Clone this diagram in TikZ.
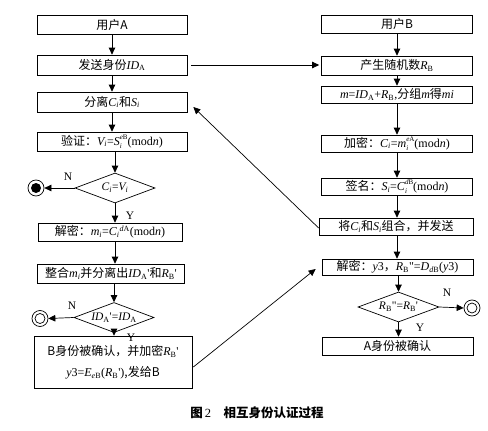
\documentclass[tikz,border=0pt]{standalone}
\usepackage{fontspec}
\setmainfont{Noto Sans CJK SC}
\newfontfamily\tm{Liberation Serif}
\usetikzlibrary{shapes.geometric,arrows.meta}
\newcommand\tv[1]{{\tm\itshape #1}}
\newcommand\tr[1]{{\tm #1}}
\newcommand\lsb[1]{\textsubscript{\tm\upshape #1}}
\newcommand\lsbi[1]{\textsubscript{\tm\itshape #1}}
\newcommand\lsp[1]{\textsuperscript{\tm #1}}
\newcommand\stk[2]{\rlap{\raisebox{-0.45ex}{\scriptsize\tm\itshape #1}}\raisebox{0.85ex}{\scriptsize\tm #2}}
\begin{document}
\begin{tikzpicture}[x=1pt,y=-1pt,
  box/.style={draw, rectangle, inner sep=0pt, line width=0.7pt, font=\fontsize{12}{13}\selectfont},
  dia/.style={draw, diamond, aspect=2.9, inner sep=0pt, line width=0.7pt, font=\fontsize{11.5}{12}\selectfont},
  arr/.style={-{Triangle[length=7pt,width=6.5pt]}, line width=0.7pt},
  lbl/.style={font=\tm\fontsize{11.5}{12}\selectfont, inner sep=0pt},
  ring/.style={draw, circle, line width=0.7pt, inner sep=0pt, minimum size=16pt}]
\useasboundingbox (0,0) rectangle (488,431);
% left column
\node[box, minimum width=150pt, minimum height=19pt] (uA) at (112,24.5) {用户A};
\node[box, minimum width=150pt, minimum height=20pt] (sendID) at (112,65) {发送身份\tv{ID}\lsb{A}};
\node[box, minimum width=150pt, minimum height=20pt] (sep) at (112,102) {分离\tv{C}\lsbi{i}和\tv{S}\lsbi{i}};
\node[box, minimum width=150pt, minimum height=19pt] (verify) at (112,141.5) {验证：\tv{V}\lsbi{i}\tr{=}\tv{S}\stk{i}{\tv{e}B}\tr{(mod}\tv{n}\tr{)}};
\node[dia, minimum width=80pt, minimum height=30pt] (d1) at (115,188) {\tv{C}\lsbi{i}\tr{=}\tv{V}\lsbi{i}};
\node[box, minimum width=144pt, minimum height=18pt] (dec) at (110,232) {解密：\tv{m}\lsbi{i}\tr{=}\tv{C}\lsbi{i}\lsp{\tv{d}A}\tr{(mod}\tv{n}\tr{)}};
\node[box, minimum width=147pt, minimum height=19pt] (merge) at (111,273.5) {整合\tv{m}\lsbi{i}并分离出\tv{ID}\lsb{A}\tr{'}和\tv{R}\lsb{B}\tr{'}};
\node[dia, minimum width=80pt, minimum height=30pt] (d2) at (114,317.5) {\tv{ID}\lsb{A}\tr{'=}\tv{ID}\lsb{A}};
\node[box, minimum width=158pt, minimum height=52pt, align=center] (conf) at (113,362)
  {B身份被确认，并加密\tv{R}\lsb{B}\tr{'}\\[8pt]\tv{y}\tr{3=}\tv{E}\lsb{\tv{e}B}\tr{(}\tv{R}\lsb{B}\tr{')},发给B};
\node[ring] (endA) at (36,188) {};
\node[circle, fill=black, inner sep=0pt, minimum size=10pt] (endAin) at (endA) {};
\node[ring] (endB) at (40,318.5) {};
\node[circle, draw, line width=0.7pt, inner sep=0pt, minimum size=10pt] (endBin) at (endB) {};
\node[lbl] (n1) at (68,177) {N};
\node[lbl] (y1) at (130,216) {Y};
\node[lbl] (n2) at (72,306) {N};
\node[lbl] (y2) at (131,338) {Y};
% right column
\node[box, minimum width=151pt, minimum height=18pt] (uB) at (397,24) {用户B};
\node[box, minimum width=151pt, minimum height=19pt] (rand) at (397,65.5) {产生随机数\tv{R}\lsb{B}};
\node[box, minimum width=151pt, minimum height=17pt] (mID) at (397,94.5) {\tv{m}\tr{=}\tv{ID}\lsb{A}\tr{+}\tv{R}\lsb{B}\tr{,}分组\tv{m}得\tv{mi}};
\node[box, minimum width=151pt, minimum height=17pt] (enc) at (397,143.5) {加密：\tv{C}\lsbi{i}\tr{=}\tv{m}\stk{i}{\tv{e}A}\tr{(mod}\tv{n}\tr{)}};
\node[box, minimum width=151pt, minimum height=17pt] (sig) at (397,186.5) {签名：\tv{S}\lsbi{i}\tr{=}\tv{C}\stk{i}{\tv{d}B}\tr{(mod}\tv{n}\tr{)}};
\node[box, minimum width=154pt, minimum height=17pt] (comb) at (396,226.5) {将\tv{C}\lsbi{i}和\tv{S}\lsbi{i}组合，并发送};
\node[box, minimum width=151pt, minimum height=16pt] (decB) at (397.5,267) {解密：\tv{y}\tr{3}，\tv{R}\lsb{B}\tr{"=}\tv{D}\lsb{\tv{d}B}\tr{(}\tv{y}\tr{3)}};
\node[dia, minimum width=81pt, minimum height=30pt] (d3) at (398.5,307) {\tv{R}\lsb{B}\tr{"=}\tv{R}\lsb{B}\tr{'}};
\node[box, minimum width=151pt, minimum height=18pt] (confA) at (397.5,346) {A身份被确认};
\node[ring] (endC) at (472,308) {};
\node[circle, draw, line width=0.7pt, inner sep=0pt, minimum size=10pt] (endCin) at (endC) {};
\node[lbl] (n3) at (447,293) {N};
\node[lbl] (y3) at (420,328) {Y};
% caption
\node[font=\fontsize{12.5}{14}\selectfont\bfseries, inner sep=0pt] (cap) at (257,413) {图\,{\tm\mdseries 2}\quad 相互身份认证过程};
% arrows left
\draw[arr] (uA) -- (sendID);
\draw[arr] (sendID) -- (sep);
\draw[arr] (sep) -- (verify);
\draw[arr] (verify.south -| d1) -- (d1.north);
\draw[arr] (d1.south) -- (d1.south |- dec.north);
\draw[arr] (dec.south -| d1) -- (d1 |- merge.north);
\draw[arr] (merge.south -| d2) -- (d2.north);
\draw[arr] (d2.south) -- (d2.south |- conf.north);
\draw[arr] (d1.west) -- (endA.east);
\draw[arr] (d2.west) -- (endB.east);
% arrows right
\draw[arr] (uB) -- (rand);
\draw[arr] (rand) -- (mID);
\draw[arr] (mID) -- (enc);
\draw[arr] (enc) -- (sig);
\draw[arr] (sig) -- (sig |- comb.north);
\draw[arr] (sig |- comb.south) -- (sig |- decB.north);
\draw[arr] (decB.south -| d3) -- (d3.north);
\draw[arr] (d3.south) -- (d3.south |- confA.north);
\draw[arr] (d3.east) -- (endC.west);
% cross arrows
\draw[arr, shorten <=4pt, shorten >=2pt] (sendID.east) -- (rand.west |- sendID.east);
\draw[arr] ([yshift=-1.5pt]comb.west) -- ([xshift=6pt,yshift=-5pt]sep.east);
\draw[arr] ([xshift=1pt,yshift=-5pt]conf.east) -- ([xshift=-6pt,yshift=-2pt]decB.west);
\end{tikzpicture}
\end{document}
